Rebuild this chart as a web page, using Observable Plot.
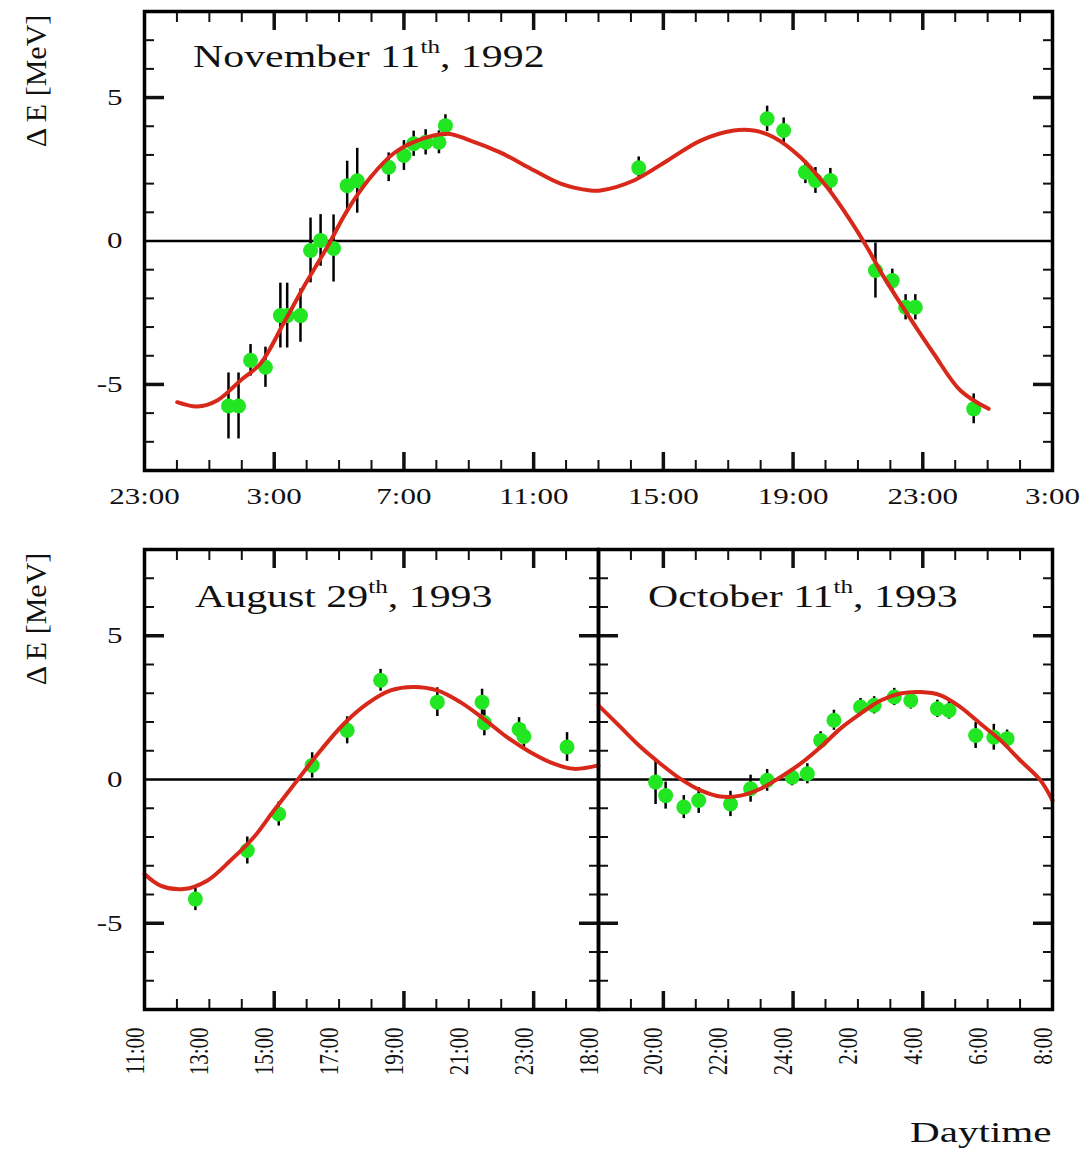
<!DOCTYPE html>
<html><head><meta charset="utf-8">
<script src="https://cdn.jsdelivr.net/npm/d3@7"></script>
<script src="https://cdn.jsdelivr.net/npm/@observablehq/plot@0.6"></script>
<style>
html,body{margin:0;padding:0;background:#fff;overflow:hidden;}
#wrap{position:relative;width:1081px;height:1152px;overflow:hidden;font-family:"Liberation Serif","Times New Roman",serif;color:#111;}
.panel{position:absolute;}
.title{position:absolute;font-size:31px;line-height:1;white-space:nowrap;transform:scaleX(1.35);transform-origin:0 0;}
.title sup{font-size:0.6em;vertical-align:14px;line-height:0;}
.ylab{position:absolute;font-size:30px;line-height:1;white-space:nowrap;transform:translate(-50%,-50%) rotate(-90deg);}
.xlab{position:absolute;font-size:30px;line-height:1;white-space:nowrap;transform:scaleX(1.37);transform-origin:0 0;}
</style></head>
<body><div id="wrap"></div>
<script>
// ---------- November 11th, 1992 (hours counted from midnight of Nov 10/11 day start) ----------
const nov92Hours  = [25.59, 25.9, 26.27, 26.73, 27.19, 27.4, 27.81, 28.12, 28.43, 28.83, 29.25, 29.56, 30.53, 31.0, 31.3, 31.67, 32.08, 32.28, 38.24, 42.2, 42.71, 43.38, 43.69, 44.15, 45.54, 46.06, 46.47, 46.77, 48.57];
const nov92Values = [-5.75, -5.75, -4.16, -4.4, -2.6, -2.6, -2.6, -0.33, 0.02, -0.26, 1.93, 2.1, 2.57, 2.98, 3.39, 3.44, 3.44, 4.02, 2.55, 4.26, 3.85, 2.4, 2.11, 2.11, -1.03, -1.38, -2.31, -2.31, -5.85];
const nov92Errors = [1.15, 1.15, 0.55, 0.7, 1.13, 1.13, 0.93, 1.13, 0.9, 1.17, 0.85, 1.13, 0.5, 0.52, 0.44, 0.44, 0.4, 0.38, 0.38, 0.44, 0.44, 0.4, 0.45, 0.42, 0.96, 0.4, 0.44, 0.44, 0.52];
const nov92FitHours  = [24.01, 24.63, 25.24, 25.96, 26.58, 27.29, 27.9, 28.63, 29.25, 29.97, 30.68, 31.41, 32.33, 33.05, 33.98, 34.9, 35.83, 36.75, 37.06, 38.09, 39.12, 40.15, 41.17, 41.79, 42.4, 43.23, 44.05, 44.77, 45.28, 45.8, 46.52, 47.34, 48.16, 49.03];
const nov92FitValues = [-5.62, -5.77, -5.56, -4.86, -4.27, -2.87, -1.62, -0.22, 1.06, 2.22, 3.05, 3.5, 3.74, 3.5, 3.08, 2.53, 2.0, 1.76, 1.76, 2.11, 2.8, 3.5, 3.85, 3.85, 3.62, 2.92, 1.87, 0.71, -0.22, -1.26, -2.54, -3.93, -5.21, -5.85];
const nov92TickHours  = [23, 27, 31, 35, 39, 43, 47, 51];
const nov92TickLabels = ["23:00", "3:00", "7:00", "11:00", "15:00", "19:00", "23:00", "3:00"];

// ---------- August 29th, 1993 ----------
const aug93Hours  = [12.57, 14.17, 15.14, 16.17, 17.25, 18.28, 20.03, 21.41, 21.48, 22.55, 22.7, 24.03];
const aug93Values = [-4.16, -2.47, -1.2, 0.49, 1.71, 3.45, 2.69, 2.69, 1.97, 1.75, 1.5, 1.13];
const aug93Errors = [0.4, 0.47, 0.42, 0.44, 0.47, 0.38, 0.5, 0.45, 0.45, 0.4, 0.4, 0.5];
const aug93FitHours  = [11.0, 11.49, 12.21, 12.93, 13.65, 14.37, 14.99, 15.71, 16.43, 17.15, 17.87, 18.59, 19.3, 20.03, 20.74, 21.46, 22.18, 22.9, 23.62, 24.24, 25.0];
const aug93FitValues = [-3.29, -3.69, -3.81, -3.52, -2.82, -2.01, -1.08, -0.03, 1.01, 1.94, 2.64, 3.1, 3.22, 3.1, 2.69, 2.11, 1.47, 0.95, 0.55, 0.37, 0.49];
const aug93TickHours  = [11, 13, 15, 17, 19, 21, 23];
const aug93TickLabels = ["11:00", "13:00", "15:00", "17:00", "19:00", "21:00", "23:00"];

// ---------- October 11th, 1993 ----------
const oct93Hours  = [19.76, 20.07, 20.63, 21.09, 22.07, 22.69, 23.2, 23.97, 24.44, 24.85, 25.26, 26.08, 26.5, 27.12, 27.63, 28.45, 28.81, 29.63, 30.19, 30.6];
const oct93Values = [-0.09, -0.56, -0.96, -0.73, -0.85, -0.32, -0.03, 0.08, 0.2, 1.36, 2.06, 2.52, 2.58, 2.87, 2.75, 2.46, 2.4, 1.53, 1.47, 1.42];
const oct93Errors = [0.78, 0.47, 0.4, 0.45, 0.44, 0.47, 0.38, 0.3, 0.35, 0.3, 0.35, 0.3, 0.3, 0.3, 0.3, 0.3, 0.3, 0.45, 0.45, 0.3];
const oct93FitHours  = [18.0, 18.68, 19.3, 19.91, 20.53, 21.15, 21.76, 22.38, 23.0, 23.61, 24.23, 24.85, 25.46, 26.08, 26.7, 27.31, 27.93, 28.55, 29.16, 29.78, 30.4, 31.01, 31.63, 32.0];
const oct93FitValues = [2.58, 1.82, 1.13, 0.55, 0.02, -0.38, -0.59, -0.56, -0.32, 0.08, 0.55, 1.13, 1.77, 2.29, 2.75, 2.99, 3.04, 2.93, 2.52, 1.94, 1.36, 0.66, -0.03, -0.73];
const oct93TickHours  = [18, 20, 22, 24, 26, 28, 30, 32];
const oct93TickLabels = ["18:00", "20:00", "22:00", "24:00", "2:00", "4:00", "6:00", "8:00"];

// ---------- shared y axis ----------
const yDomain = [-8, 8];
const yMinorTicks = [-7, -6, -5, -4, -3, -2, -1, 1, 2, 3, 4, 5, 6, 7];
const yMajorTicks = [-5, 5];
const yLabelTicks = [-5, 0, 5];
const yLabelText  = ["-5", "0", "5"];
const titles = [
  {html: "November 11<sup>th</sup>, 1992", left: 193, top: 41},
  {html: "August 29<sup>th</sup>, 1993", left: 195, top: 581},
  {html: "October 11<sup>th</sup>, 1993", left: 648, top: 581}
];

const GREEN = "#22e622", RED = "#d8281a";
const rows = (h, v, e) => h.map((x, i) => ({h: x, v: v[i], lo: v[i] - e[i], hi: v[i] + e[i]}));
const fitRows = (h, v) => h.map((x, i) => ({h: x, v: v[i]}));
const range = (a, b) => d3.range(a, b + 1);

// widen the glyphs of the tick labels horizontally (the reference type is wide)
function stretch(svg, s) {
  svg.querySelectorAll("text").forEach(t => {
    const tr = t.getAttribute("transform") || "";
    t.setAttribute("transform", tr + (/rotate/.test(tr) ? ` scale(1,${s})` : ` scale(${s},1)`));
  });
}

function panel(o) {
  const fmtX = d => o.xLabels[o.xLabelTicks.indexOf(d)];
  const marks = [
    Plot.ruleY([0], {stroke: "#000", strokeWidth: 2.5}),
    Plot.ruleX(o.data, {x: "h", y1: "lo", y2: "hi", stroke: "#000", strokeWidth: 2.5}),
    Plot.dot(o.data, {x: "h", y: "v", r: 7.5, fill: GREEN, stroke: "none"}),
    Plot.line(o.fit, {x: "h", y: "v", stroke: RED, strokeWidth: 4, curve: "catmull-rom"})
  ];
  for (const anchor of ["top", "bottom"]) {
    marks.push(Plot.axisX(o.xMinor, {anchor, tickSize: -10, strokeWidth: 2, fill: "none", label: null}));
    marks.push(Plot.axisX(o.xMajor, {anchor, tickSize: -18, strokeWidth: 3.5, fill: "none", label: null}));
  }
  for (const anchor of ["left", "right"]) {
    marks.push(Plot.axisY(yMinorTicks, {anchor, tickSize: -10, strokeWidth: 2, fill: "none", label: null}));
    marks.push(Plot.axisY(yMajorTicks, {anchor, tickSize: -20, strokeWidth: 3.5, fill: "none", label: null}));
  }
  marks.push(Plot.axisX(o.xLabelTicks, o.rotate
    ? {anchor: "bottom", tickSize: 0, tickPadding: 18, tickRotate: -90, tickFormat: fmtX, label: null, fontSize: 21, dx: -10, fill: "#111"}
    : {anchor: "bottom", tickSize: 0, tickPadding: 17, tickFormat: fmtX, label: null, fontSize: 23, fill: "#111"}));
  if (o.yLabels) marks.push(Plot.axisY(yLabelTicks, {anchor: "left", tickSize: 0, tickPadding: 22, tickFormat: d => yLabelText[yLabelTicks.indexOf(d)], label: null, fontSize: 23, fill: "#111"}));
  marks.push(Plot.frame({stroke: "#000", strokeWidth: 3.5}));
  const svg = Plot.plot({
    width: o.width, height: o.height,
    marginLeft: o.ml, marginRight: o.mr, marginTop: 11, marginBottom: o.mb,
    style: {background: "transparent", overflow: "visible", fontFamily: "'Liberation Serif', serif"},
    x: {domain: o.xDomain},
    y: {domain: yDomain},
    marks
  });
  stretch(svg, 1.35);
  return svg;
}

const wrap = document.getElementById("wrap");
function place(node, left, top) {
  const d = document.createElement("div");
  d.className = "panel"; d.style.left = left + "px"; d.style.top = top + "px";
  d.appendChild(node); wrap.appendChild(d);
}

place(panel({
  width: 1081, height: 530, ml: 144, mr: 29, mb: 60,
  xDomain: [23, 51], xMinor: range(24, 50), xMajor: [27, 31, 35, 39, 43, 47],
  xLabelTicks: nov92TickHours, xLabels: nov92TickLabels, rotate: false, yLabels: true,
  data: rows(nov92Hours, nov92Values, nov92Errors), fit: fitRows(nov92FitHours, nov92FitValues)
}), 0, 0);

place(panel({
  width: 620, height: 560, ml: 144, mr: 22, mb: 89,
  xDomain: [11, 25], xMinor: range(12, 24), xMajor: [15, 19, 23],
  xLabelTicks: aug93TickHours, xLabels: aug93TickLabels, rotate: true, yLabels: true,
  data: rows(aug93Hours, aug93Values, aug93Errors), fit: fitRows(aug93FitHours, aug93FitValues)
}), 0, 538);

place(panel({
  width: 503, height: 560, ml: 20, mr: 29, mb: 89,
  xDomain: [18, 32], xMinor: range(19, 31), xMajor: [20, 24, 28],
  xLabelTicks: oct93TickHours, xLabels: oct93TickLabels, rotate: true, yLabels: false,
  data: rows(oct93Hours, oct93Values, oct93Errors), fit: fitRows(oct93FitHours, oct93FitValues)
}), 578, 538);

for (const t of titles) {
  const d = document.createElement("div");
  d.className = "title"; d.style.left = t.left + "px"; d.style.top = t.top + "px";
  d.innerHTML = t.html; wrap.appendChild(d);
}
for (const cy of [81, 619]) {
  const d = document.createElement("div");
  d.className = "ylab"; d.style.left = "36px"; d.style.top = cy + "px";
  d.textContent = "Δ E [MeV]"; wrap.appendChild(d);
}
const xl = document.createElement("div");
xl.className = "xlab"; xl.style.left = "910px"; xl.style.top = "1117px";
xl.textContent = "Daytime"; wrap.appendChild(xl);
</script></body></html>
